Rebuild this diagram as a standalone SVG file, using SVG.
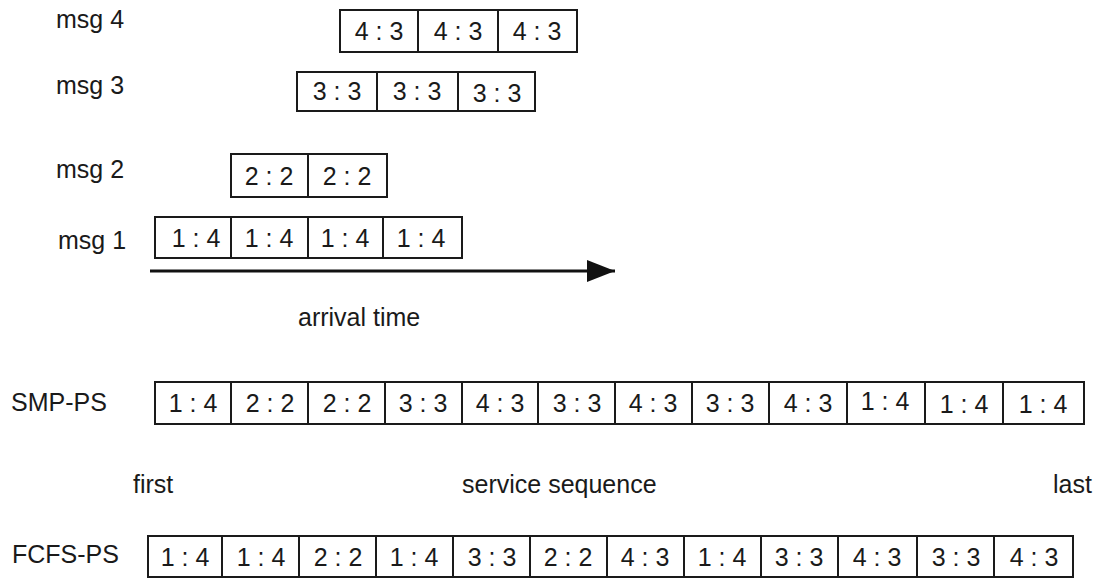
<svg xmlns="http://www.w3.org/2000/svg" width="1104" height="584" viewBox="0 0 1104 584">
<style>
  .bg{fill:#ffffff}
  .cell{fill:#ffffff;stroke:#1a1a1a;stroke-width:2}
  .t{font-family:"Liberation Sans",Arial,sans-serif;font-size:25px;fill:#1a1a1a}
  .c{text-anchor:middle}
  .conn{stroke:#111;stroke-width:3;fill:none}
</style>
<defs>
  <marker id="ah" markerUnits="userSpaceOnUse" markerWidth="30" markerHeight="24" refX="28" refY="11" orient="auto">
    <polygon points="0,0 28,11 0,22" fill="#111"/>
  </marker>
</defs>
<rect class="bg" x="0" y="0" width="1104" height="584"/>

<g id="labels">
  <text class="t" x="56" y="28">msg 4</text>
  <text class="t" x="56" y="94">msg 3</text>
  <text class="t" x="56" y="178">msg 2</text>
  <text class="t" x="58" y="249">msg 1</text>
  <text class="t" x="298" y="326">arrival time</text>
  <text class="t" x="11" y="411">SMP-PS</text>
  <text class="t" x="133" y="493">first</text>
  <text class="t" x="462" y="493">service sequence</text>
  <text class="t" x="1053" y="493">last</text>
  <text class="t" x="12" y="563">FCFS-PS</text>
</g>

<g id="msg4">
  <g id="m4c1"><rect class="cell" x="340" y="10" width="78" height="42"/><text class="t c" x="379" y="40">4 : 3</text></g>
  <g id="m4c2"><rect class="cell" x="418" y="10" width="80" height="42"/><text class="t c" x="458" y="40">4 : 3</text></g>
  <g id="m4c3"><rect class="cell" x="498" y="10" width="79" height="42"/><text class="t c" x="537" y="40">4 : 3</text></g>
</g>

<g id="msg3">
  <g id="m3c1"><rect class="cell" x="297" y="72" width="80" height="39"/><text class="t c" x="337" y="100">3 : 3</text></g>
  <g id="m3c2"><rect class="cell" x="377" y="72" width="81" height="39"/><text class="t c" x="417" y="100">3 : 3</text></g>
  <g id="m3c3"><rect class="cell" x="458" y="72" width="77" height="39"/><text class="t c" x="497" y="102">3 : 3</text></g>
</g>

<g id="msg2">
  <g id="m2c1"><rect class="cell" x="231" y="154" width="77" height="43"/><text class="t c" x="269" y="185">2 : 2</text></g>
  <g id="m2c2"><rect class="cell" x="308" y="154" width="79" height="43"/><text class="t c" x="347" y="185">2 : 2</text></g>
</g>

<g id="msg1">
  <g id="m1c1"><rect class="cell" x="155" y="217" width="76" height="41"/><text class="t c" x="196" y="247">1 : 4</text></g>
  <g id="m1c2"><rect class="cell" x="231" y="217" width="77" height="41"/><text class="t c" x="269" y="247">1 : 4</text></g>
  <g id="m1c3"><rect class="cell" x="308" y="217" width="75" height="41"/><text class="t c" x="345" y="247">1 : 4</text></g>
  <g id="m1c4"><rect class="cell" x="383" y="217" width="79" height="41"/><text class="t c" x="421" y="247">1 : 4</text></g>
</g>

<g id="smp">
  <g id="s1"><rect class="cell" x="155" y="382" width="76" height="42"/><text class="t c" x="193" y="412">1 : 4</text></g>
  <g id="s2"><rect class="cell" x="231" y="382" width="77" height="42"/><text class="t c" x="270" y="412">2 : 2</text></g>
  <g id="s3"><rect class="cell" x="308" y="382" width="77" height="42"/><text class="t c" x="347" y="412">2 : 2</text></g>
  <g id="s4"><rect class="cell" x="385" y="382" width="77" height="42"/><text class="t c" x="423" y="412">3 : 3</text></g>
  <g id="s5"><rect class="cell" x="462" y="382" width="76" height="42"/><text class="t c" x="500" y="412">4 : 3</text></g>
  <g id="s6"><rect class="cell" x="538" y="382" width="77" height="42"/><text class="t c" x="577" y="412">3 : 3</text></g>
  <g id="s7"><rect class="cell" x="615" y="382" width="77" height="42"/><text class="t c" x="653" y="412">4 : 3</text></g>
  <g id="s8"><rect class="cell" x="692" y="382" width="77" height="42"/><text class="t c" x="730" y="412">3 : 3</text></g>
  <g id="s9"><rect class="cell" x="769" y="382" width="78" height="42"/><text class="t c" x="808" y="412">4 : 3</text></g>
  <g id="s10"><rect class="cell" x="847" y="382" width="78" height="42"/><text class="t c" x="885" y="410">1 : 4</text></g>
  <g id="s11"><rect class="cell" x="925" y="382" width="78" height="42"/><text class="t c" x="964" y="413">1 : 4</text></g>
  <g id="s12"><rect class="cell" x="1003" y="382" width="81" height="42"/><text class="t c" x="1043" y="413">1 : 4</text></g>
</g>

<g id="fcfs">
  <g id="f1"><rect class="cell" x="148" y="536" width="74" height="41"/><text class="t c" x="185" y="566">1 : 4</text></g>
  <g id="f2"><rect class="cell" x="222" y="536" width="77" height="41"/><text class="t c" x="261" y="566">1 : 4</text></g>
  <g id="f3"><rect class="cell" x="299" y="536" width="77" height="41"/><text class="t c" x="338" y="566">2 : 2</text></g>
  <g id="f4"><rect class="cell" x="376" y="536" width="77" height="41"/><text class="t c" x="414" y="566">1 : 4</text></g>
  <g id="f5"><rect class="cell" x="453" y="536" width="77" height="41"/><text class="t c" x="492" y="566">3 : 3</text></g>
  <g id="f6"><rect class="cell" x="530" y="536" width="77" height="41"/><text class="t c" x="568" y="566">2 : 2</text></g>
  <g id="f7"><rect class="cell" x="607" y="536" width="77" height="41"/><text class="t c" x="645" y="566">4 : 3</text></g>
  <g id="f8"><rect class="cell" x="684" y="536" width="77" height="41"/><text class="t c" x="722" y="566">1 : 4</text></g>
  <g id="f9"><rect class="cell" x="761" y="536" width="77" height="41"/><text class="t c" x="799" y="566">3 : 3</text></g>
  <g id="f10"><rect class="cell" x="838" y="536" width="79" height="41"/><text class="t c" x="877" y="566">4 : 3</text></g>
  <g id="f11"><rect class="cell" x="917" y="536" width="77" height="41"/><text class="t c" x="956" y="566">3 : 3</text></g>
  <g id="f12"><rect class="cell" x="994" y="536" width="79" height="41"/><text class="t c" x="1034" y="566">4 : 3</text></g>
</g>

<g id="connectors">
  <line class="conn" x1="150" y1="271" x2="615" y2="271" marker-end="url(#ah)"/>
</g>
</svg>
